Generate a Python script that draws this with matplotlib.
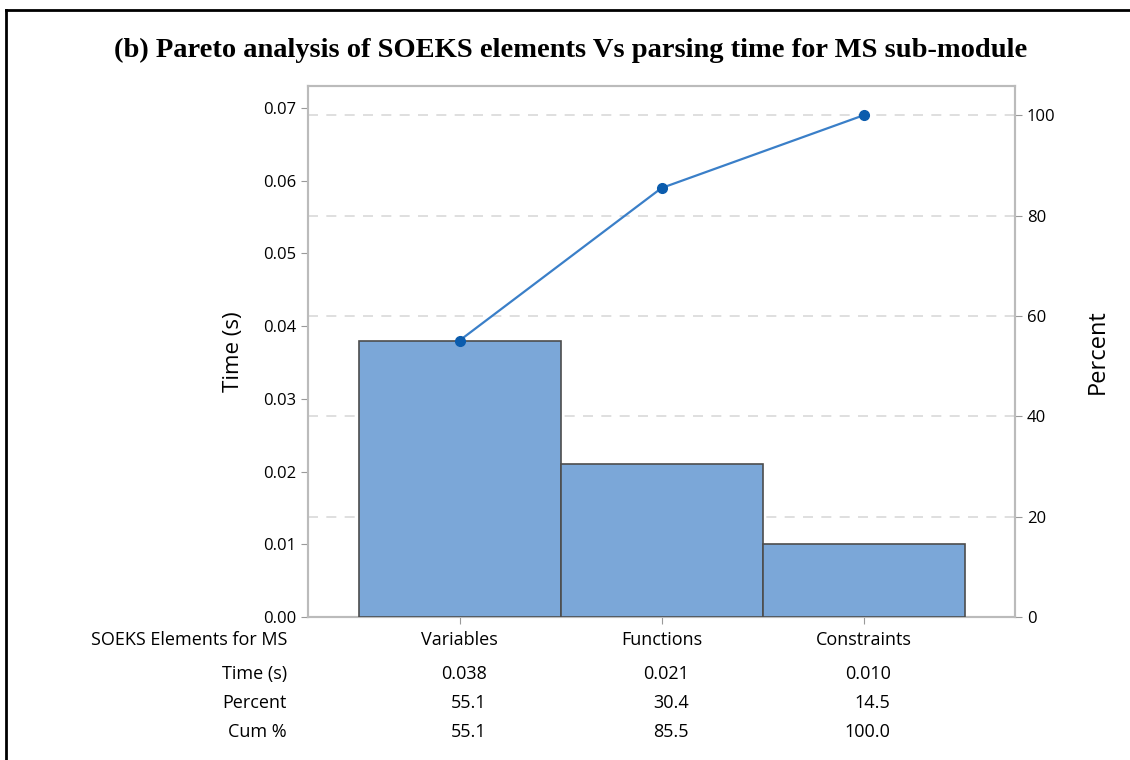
import matplotlib.pyplot as plt
from matplotlib.lines import Line2D

# Data
categories = ['Variables', 'Functions', 'Constraints']
times = [0.038, 0.021, 0.010]
time_labels = ['0.038', '0.021', '0.010']
percent = [55.1, 30.4, 14.5]
cum_pct = [55.1, 85.5, 100.0]

plt.rcParams['font.family'] = ['Open Sans', 'DejaVu Sans']

fig = plt.figure(figsize=(11.3, 7.6), dpi=100)
ax = fig.add_axes([308/1130, 1 - 617/760, 707/1130, 531/760])

x = list(range(len(categories)))
ax.bar(x, times, width=1.0, color='#7BA7D8', edgecolor='#4D4D4D', linewidth=1.2, zorder=3)
ax.set_xticks(x)
ax.set_xticklabels([])
ax.set_ylabel('Time (s)', fontsize=16, labelpad=14)
ax.tick_params(axis='both', labelsize=12, color='#999999', length=5)

# Right percent axis
total = sum(times)
ymax = 0.07303
ax2 = ax.twinx()
ax2.set_yticks([0, 20, 40, 60, 80, 100])
ax2.tick_params(axis='y', labelsize=12, color='#999999', length=5)
ax2.grid(axis='y', color='#D9D9D9', linestyle=(0, (6, 5)), linewidth=1.2)
ax2.set_ylabel('Percent', fontsize=17, labelpad=22)
ax.set_zorder(ax2.get_zorder() + 1)
ax.patch.set_visible(False)

# cumulative line drawn in the percent scale, above the bars
ax.plot(x, cum_pct, color='#3A7FC8', linewidth=1.6, marker='o', markersize=7,
        markerfacecolor='#0B5CAD', markeredgecolor='#0B5CAD', zorder=5,
        transform=ax2.transData)

ax.set_xlim(-0.75, 2.75)
ax.set_ylim(0, ymax)
ax.set_yticks([0, 0.01, 0.02, 0.03, 0.04, 0.05, 0.06, 0.07])
ax.set_yticklabels(['0.00', '0.01', '0.02', '0.03', '0.04', '0.05', '0.06', '0.07'])
ax2.set_ylim(0, ymax / total * 100)

for a in (ax, ax2):
    for s in a.spines.values():
        s.set_color('#BBBBBB')
        s.set_linewidth(1.5)

fig.suptitle('(b) Pareto analysis of SOEKS elements Vs parsing time for MS sub-module',
             x=571/1130, y=1 - 50/760, va='center', fontsize=20.5, fontweight='bold',
             family='Liberation Serif')

# Table below the axes
fs = 13
row_x = 287 / 1130
rows = ['Time (s)', 'Percent', 'Cum %']
row_y = [674, 703, 732]
fig.text(row_x, 1 - 640/760, 'SOEKS Elements for MS', ha='right', va='center', fontsize=fs)
for r, yy in zip(rows, row_y):
    fig.text(row_x, 1 - yy/760, r, ha='right', va='center', fontsize=fs)

values = [time_labels, ['%.1f' % p for p in percent], ['%.1f' % c for c in cum_pct]]
for i, cat in enumerate(categories):
    ax.text(i, -0.0032, cat, ha='center', va='center', fontsize=fs, clip_on=False)
    xr = i + 27 / 202
    for vals, yy in zip(values, row_y):
        ycoord = (617 - yy) / 7271
        ax.text(xr, ycoord, vals[i], ha='right', va='center', fontsize=fs, clip_on=False)

# Outer frame lines (left and top)
fig.add_artist(Line2D([6/1130, 6/1130], [0, 1 - 10/760], color='black', linewidth=2))
fig.add_artist(Line2D([6/1130, 1], [1 - 10/760, 1 - 10/760], color='black', linewidth=2))

fig.savefig('out.png', dpi=100)
